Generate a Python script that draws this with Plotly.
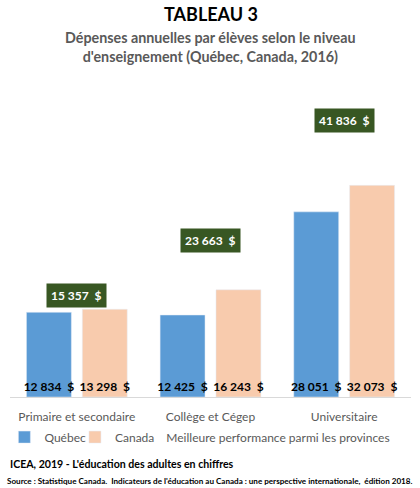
import plotly.graph_objects as go

# Data
niveaux = ["Primaire et secondaire", "Collège et Cégep", "Universitaire"]
quebec = [12834, 12425, 28051]
canada = [13298, 16243, 32073]
meilleure = [15357, 23663, 41836]

BLUE = "#5b9bd5"
PEACH = "#f8cbad"
GREEN = "#385723"
GRAY = "#595959"
FONT = "Lato"


def fmt(v):
    return f"{v:,}".replace(",", " ") + "  $"


fig = go.Figure()

fig.add_trace(go.Bar(
    x=niveaux, y=quebec, name="Québec", marker_color=BLUE,
    text=[fmt(v) for v in quebec], textposition="inside", textangle=0,
    insidetextanchor="start", constraintext="none", cliponaxis=False,
    textfont=dict(family=FONT, size=12, color="black", weight="bold"),
    legend="legend",
))
fig.add_trace(go.Bar(
    x=niveaux, y=canada, name="Canada", marker_color=PEACH,
    text=[fmt(v) for v in canada], textposition="inside", textangle=0,
    insidetextanchor="start", constraintext="none", cliponaxis=False,
    textfont=dict(family=FONT, size=12, color="black", weight="bold"),
    legend="legend2",
))
# best provincial performance: invisible markers, labels drawn as boxes
fig.add_trace(go.Scatter(
    x=niveaux, y=meilleure, mode="markers",
    name="Meilleure performance parmi les provinces",
    marker=dict(opacity=0, size=1), legend="legend3",
))

for n, v in zip(niveaux, meilleure):
    fig.add_annotation(
        x=n, y=v, xref="x", yref="y", text=f"<b>{fmt(v)}</b>",
        showarrow=False, bgcolor=GREEN, borderpad=4,
        font=dict(family=FONT, size=12, color="white"),
    )

# title block
fig.add_annotation(x=0.5, y=1.291, xref="paper", yref="paper",
                   xanchor="center", yanchor="middle",
                   text="<b>TABLEAU 3</b>", showarrow=False,
                   font=dict(family=FONT, size=18, color="black"))
fig.add_annotation(x=0.5, y=1.177, xref="paper", yref="paper",
                   xanchor="center", yanchor="middle",
                   text="<b>Dépenses annuelles par élèves selon le niveau<br>d'enseignement (Québec, Canada, 2016)</b>",
                   showarrow=False,
                   font=dict(family=FONT, size=14.3, color=GRAY))

# footer
fig.add_annotation(x=-0.005, y=-0.2256, xref="paper", yref="paper",
                   xanchor="left", yanchor="middle", showarrow=False,
                   text="<b>ICEA, 2019 - L'éducation des adultes en chiffres</b>",
                   font=dict(family=FONT, size=10.6, color="black"))
fig.add_annotation(x=-0.0125, y=-0.283, xref="paper", yref="paper",
                   xanchor="left", yanchor="middle", showarrow=False,
                   text="<b>Source : Statistique Canada.  Indicateurs de l'éducation au Canada : une perspective internationale,  édition 2018.</b>",
                   font=dict(family=FONT, size=8.1, color="black"))

legend_font = dict(family=FONT, size=12, color=GRAY)
legend_common = dict(orientation="h", xanchor="left", y=-0.135,
                     yanchor="middle", font=legend_font, itemwidth=30,
                     bgcolor="rgba(0,0,0,0)")

fig.update_layout(
    width=420, height=488,
    margin=dict(l=10, r=8.5, t=100, b=91, autoexpand=False),
    paper_bgcolor="white", plot_bgcolor="white",
    barmode="group", bargap=0.164, bargroupgap=0.196,
    showlegend=True,
    legend=dict(x=-0.014, **legend_common),
    legend2=dict(x=0.162, **legend_common),
    legend3=dict(x=0.29, **legend_common),
    font=dict(family=FONT, color=GRAY),
)
fig.update_xaxes(showline=True, linecolor="#d9d9d9", ticks="",
                 ticklabelstandoff=9,
                 tickfont=dict(family=FONT, size=12, color=GRAY))
fig.update_yaxes(range=[0, 45000], visible=False, showgrid=False)

# drop the default 8px body margin so the figure fills the window
fig.write_html("out.html", config={"displayModeBar": False},
               post_script="document.body.style.margin='0';")
